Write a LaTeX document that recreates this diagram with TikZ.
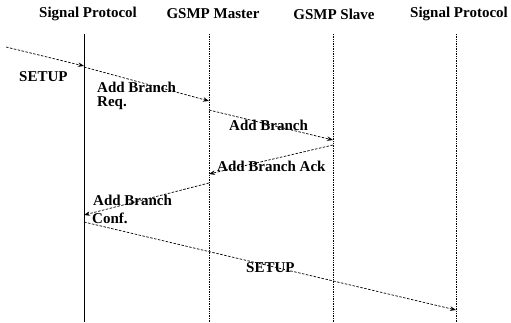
\documentclass[tikz,border=0pt]{standalone}
\usepackage{fontspec}
\setmainfont{Liberation Serif}
\usetikzlibrary{arrows.meta}
\begin{document}
\begin{tikzpicture}[x=1pt,y=-1pt,
  lbl/.style={font=\bfseries\fontsize{15}{15}\selectfont, inner sep=0pt},
  hdr/.style={font=\bfseries\fontsize{15}{15}\selectfont, inner sep=0pt},
  life/.style={line width=0.7pt, densely dotted},
  msg/.style={line width=0.7pt, dash pattern=on 2.5pt off 1.5pt, -{Stealth[length=6pt,width=4.5pt]}}]
\useasboundingbox (0,0) rectangle (511,322);
% headers
\node[hdr] (h1) at (88,14) {Signal Protocol};
\node[hdr] (h2) at (213,14) {GSMP Master};
\node[hdr] (h3) at (334,14) {GSMP Slave};
\node[hdr] (h4) at (459,14) {Signal Protocol};
% lifelines
\coordinate (t1) at (84,34); \coordinate (b1) at (84,322);
\coordinate (t2) at (209,34); \coordinate (b2) at (209,322);
\coordinate (t3) at (333,34); \coordinate (b3) at (333,322);
\coordinate (t4) at (456,34); \coordinate (b4) at (456,322);
\draw[line width=0.7pt] (t1) -- (b1);
\draw[life] (t2) -- (b2);
\draw[life] (t3) -- (b3);
\draw[life] (t4) -- (b4);
% message endpoints
\coordinate (s0) at (6,47);  \coordinate (e0) at (84,66);
\coordinate (s1) at (84,67); \coordinate (e1) at (209,101);
\coordinate (s2) at (209,110); \coordinate (e2) at (333,140);
\coordinate (s3) at (333,145); \coordinate (e3) at (209,174);
\coordinate (s4) at (209,183); \coordinate (e4) at (84,215);
\coordinate (s5) at (84,222); \coordinate (e5) at (456,310);
\draw[msg] (s0) -- (e0);
\draw[msg] (s1) -- (e1);
\draw[msg] (s2) -- (e2);
\draw[msg] (s3) -- (e3);
\draw[msg] (s4) -- (e4);
\draw[msg] (s5) -- (e5);
% labels
\node[lbl, anchor=west] (l0) at (19,77) {SETUP};
\node[lbl, anchor=west] (l1a) at (97,87) {Add Branch};
\node[lbl, anchor=west] (l1b) at (97,103) {Req.};
\node[lbl, anchor=west] (l2) at (229,125) {Add Branch};
\node[lbl, anchor=west] (l3) at (217,166) {Add Branch Ack};
\node[lbl, anchor=west] (l4a) at (93,200) {Add Branch};
\node[lbl, anchor=west] (l4b) at (92,218) {Conf.};
\node[lbl, anchor=west] (l5) at (246,268) {SETUP};
\end{tikzpicture}
\end{document}
